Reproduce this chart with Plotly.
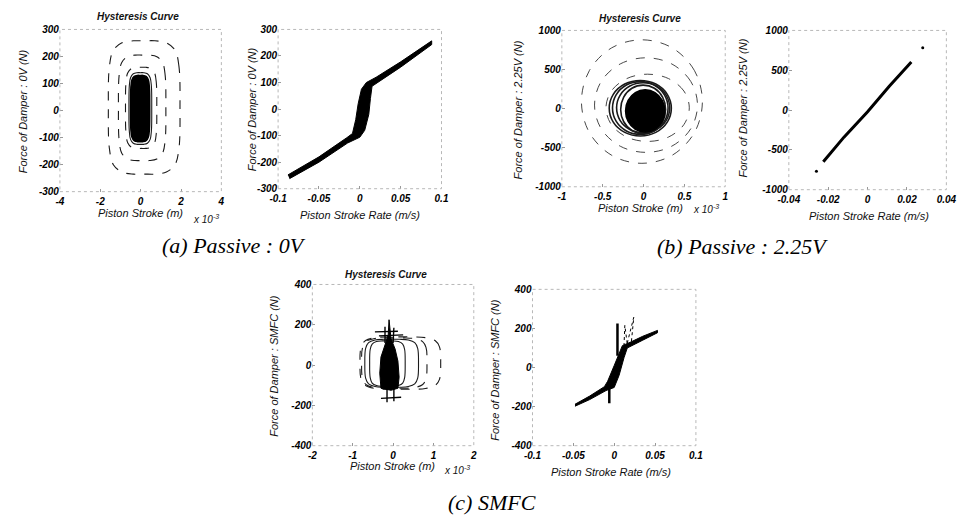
import plotly.graph_objects as go

W, H = 973, 524

# ------------------------------------------------------------------ data
# hand-traced unit loop outlines (used for the hysteresis loops)
RECT_U = [1.0, 0.97, 0.86, 0.62, 0.3, 0.0, -0.3, -0.62, -0.86, -0.97, -1.0,
          -0.97, -0.86, -0.62, -0.3, 0.0, 0.3, 0.62, 0.86, 0.97, 1.0]
RECT_V = [0.0, 0.62, 0.86, 0.97, 1.0, 1.0, 1.0, 0.97, 0.86, 0.62, 0.0,
          -0.62, -0.86, -0.97, -1.0, -1.0, -1.0, -0.97, -0.86, -0.62, 0.0]
ELL_U = [1.0, 0.87, 0.5, 0.0, -0.5, -0.87, -1.0, -0.87, -0.5, 0.0, 0.5, 0.87, 1.0]
ELL_V = [0.0, 0.5, 0.87, 1.0, 0.87, 0.5, 0.0, -0.5, -0.87, -1.0, -0.87, -0.5, 0.0]

# (a) Passive 0V : stroke (x1e-3 m) vs force (N)
A1_LOOP_X = [(-1.6, 1.95), (-1.1, 1.25), (-0.75, 0.8), (-0.58, 0.55)]
A1_LOOP_Y = [(-235, 258), (-185, 205), (-140, 160), (-125, 140)]
A1_CORE_X = (-0.5, 0.45)
A1_CORE_Y = (-115, 130)

# (a) Passive 0V : stroke rate (m/s) vs force (N) - band outline
A2_RATE = [-0.088, -0.05, -0.016, -0.009, -0.005, -0.002, 0.002, 0.008, 0.02, 0.05, 0.088,
           0.088, 0.05, 0.02, 0.015, 0.013, 0.011, 0.006, 0.0, -0.015, -0.05, -0.086]
A2_FORCE = [-248, -180, -108, -92, -40, 20, 75, 100, 120, 178, 257,
            243, 158, 96, 86, 40, -20, -80, -106, -128, -200, -262]

# (b) Passive 2.25V : stroke vs force
B1_LOOP_X = [(-0.76, 0.72), (-0.6, 0.66), (-0.46, 0.56)]
B1_LOOP_Y = [(-700, 880), (-560, 650), (-420, 440)]
B1_HAIR_X = [(-0.42, 0.34), (-0.38, 0.3), (-0.33, 0.32), (-0.28, 0.27)]
B1_HAIR_Y = [(-350, 360), (-330, 345), (-310, 330), (-320, 300)]
B1_CORE_X = (-0.22, 0.26)
B1_CORE_Y = (-300, 240)

# (b) Passive 2.25V : stroke rate vs force
B2_RATE = [-0.0225, -0.012, 0.0, 0.011, 0.0222]
B2_FORCE = [-650, -340, -20, 300, 605]
B2_DOT_RATE = [0.028, -0.026]
B2_DOT_FORCE = [784, -767]

# (c) SMFC : stroke vs force
C1_LOOP_X = [(-0.82, 1.18), (-0.78, 0.84), (-0.7, 0.63), (-0.58, 0.3)]
C1_LOOP_Y = [(-120, 140), (-115, 135), (-110, 128), (-105, 120)]
C1_CORE_STROKE = [-0.1, -0.05, 0.05, 0.12, 0.15, 0.12, -0.05, -0.3, -0.33, -0.3, -0.2, -0.12, -0.1]
C1_CORE_FORCE = [225, 130, 80, 20, -60, -115, -125, -115, -40, 40, 100, 150, 225]
C1_SPIKE_STROKE = [-0.2, -0.2, None, 0.0, 0.02, None, -0.45, 0.12, None, -0.35, 0.25, None,
                   -0.3, 0.2, None, -0.15, -0.15, None, 0.02, 0.02]
C1_SPIKE_FORCE = [110, 190, None, 110, 185, None, 165, 168, None, 145, 150, None,
                  -165, -160, None, -110, -185, None, -110, -180]

# (c) SMFC : stroke rate vs force - band outline
C2_RATE = [-0.048, -0.03, -0.012, -0.008, 0.0, 0.006, 0.01, 0.02, 0.035, 0.053,
           0.053, 0.035, 0.02, 0.016, 0.012, 0.006, 0.0, -0.01, -0.03, -0.048]
C2_FORCE = [-188, -146, -98, -70, 10, 70, 112, 130, 160, 190,
            178, 140, 108, 100, 50, -40, -102, -118, -164, -198]
C2_SPIKE_RATE = [0.004, 0.004, None, -0.006, -0.006]
C2_SPIKE_FORCE = [60, 225, None, -100, -183]
C2_DASH_RATE = [0.012, 0.013, 0.016, None, 0.016, 0.024, 0.021]
C2_DASH_FORCE = [110, 216, 120, None, 125, 258, 130]

# tick labels
A1_XT = [-4, -2, 0, 2, 4]
A_YT = [-300, -200, -100, 0, 100, 200, 300]
A2_XT = [-0.1, -0.05, 0, 0.05, 0.1]
A2_XT_TXT = ["-0.1", "-0.05", "0", "0.05", "0.1"]
B1_XT = [-1, -0.5, 0, 0.5, 1]
B1_XT_TXT = ["-1", "-0.5", "0", "0.5", "1"]
B_YT = [-1000, -500, 0, 500, 1000]
B2_XT = [-0.04, -0.02, 0, 0.02, 0.04]
B2_XT_TXT = ["-0.04", "-0.02", "0", "0.02", "0.04"]
C1_XT = [-2, -1, 0, 1, 2]
C_YT = [-400, -200, 0, 200, 400]
C2_XT = [-0.1, -0.05, 0, 0.05, 0.1]

# ------------------------------------------------------------------ helpers
def scaled(tu, tv, xr, yr):
    xs = [xr[0] + (u + 1) / 2 * (xr[1] - xr[0]) for u in tu]
    ys = [yr[0] + (v + 1) / 2 * (yr[1] - yr[0]) for v in tv]
    return xs, ys


def neg(vals):
    return [str(v) for v in vals]


fig = go.Figure()
INK = "#1a1a1a"


def loop(ax, tu, tv, xr, yr, dash="solid", width=1.0, color=INK, fill=False):
    xs, ys = scaled(tu, tv, xr, yr)
    fig.add_trace(go.Scatter(
        x=xs, y=ys, mode="lines", xaxis="x" + ax, yaxis="y" + ax,
        line=dict(color=color, width=width, dash=dash, shape="spline", smoothing=1.0),
        fill="toself" if fill else None, fillcolor="black" if fill else None,
        hoverinfo="skip", showlegend=False))


def poly(ax, xs, ys, fill=True, width=1.0, dash="solid", mode="lines", color="black"):
    fig.add_trace(go.Scatter(
        x=xs, y=ys, mode=mode, xaxis="x" + ax, yaxis="y" + ax,
        line=dict(color=color, width=width, dash=dash),
        marker=dict(color=color, size=3),
        fill="toself" if fill else None, fillcolor="black" if fill else None,
        hoverinfo="skip", showlegend=False))


# (a) left
for i, (xr, yr) in enumerate(zip(A1_LOOP_X, A1_LOOP_Y)):
    loop("", RECT_U, RECT_V, xr, yr, dash="dash" if i < 3 else "solid", width=1.1)
loop("", RECT_U, RECT_V, A1_CORE_X, A1_CORE_Y, width=1.5, color="black", fill=True)
# (a) right
poly("2", A2_RATE, A2_FORCE)
# (b) left
for xr, yr in zip(B1_LOOP_X, B1_LOOP_Y):
    loop("3", ELL_U, ELL_V, xr, yr, dash="dash", width=0.9, color="#333333")
for xr, yr in zip(B1_HAIR_X, B1_HAIR_Y):
    loop("3", ELL_U, ELL_V, xr, yr, width=1.6)
loop("3", ELL_U, ELL_V, B1_CORE_X, B1_CORE_Y, width=1.5, color="black", fill=True)
# (b) right
poly("4", B2_RATE, B2_FORCE, fill=False, width=3)
poly("4", B2_DOT_RATE, B2_DOT_FORCE, fill=False, mode="markers")
# (c) left
for i, (xr, yr) in enumerate(zip(C1_LOOP_X, C1_LOOP_Y)):
    loop("5", RECT_U, RECT_V, xr, yr, dash="dash" if i < 2 else "solid", width=1.1)
poly("5", C1_CORE_STROKE, C1_CORE_FORCE)
poly("5", C1_SPIKE_STROKE, C1_SPIKE_FORCE, fill=False, width=1.4)
# (c) right
poly("6", C2_RATE, C2_FORCE)
poly("6", C2_SPIKE_RATE, C2_SPIKE_FORCE, fill=False, width=2.5)
poly("6", C2_DASH_RATE, C2_DASH_FORCE, fill=False, width=1, dash="dot")

# ------------------------------------------------------------------ layout
TICKFONT = dict(family="Liberation Sans, Arial", size=10, color="black",
                weight="bold", style="italic")


def dom_x(x0, x1):
    return [x0 / W, x1 / W]


def dom_y(y0, y1):
    return [1 - y1 / H, 1 - y0 / H]


def axis(domain, rng, tv, tt, anchor, standoff=0):
    return dict(domain=domain, range=rng, tickvals=tv, ticktext=tt, anchor=anchor,
                showgrid=False, zeroline=False, showline=False, ticks="inside",
                ticklen=3, tickcolor="#999999", tickfont=TICKFONT, fixedrange=True,
                ticklabelstandoff=standoff)


boxes = {
    "": (50, 215, 24, 190),
    "2": (273, 440, 24, 187),
    "3": (563, 730, 25, 185),
    "4": (795, 956, 25, 188),
    "5": (308, 473, 285, 450),
    "6": (533, 700, 290, 450),
}
spec = {
    "": ([-4, 4], A1_XT, neg(A1_XT), [-300, 300], A_YT, neg(A_YT)),
    "2": ([-0.1, 0.1], A2_XT, A2_XT_TXT, [-300, 300], A_YT, neg(A_YT)),
    "3": ([-1, 1], B1_XT, B1_XT_TXT, [-1000, 1000], B_YT, neg(B_YT)),
    "4": ([-0.04, 0.04], B2_XT, B2_XT_TXT, [-1000, 1000], B_YT, neg(B_YT)),
    "5": ([-2, 2], C1_XT, neg(C1_XT), [-400, 400], C_YT, neg(C_YT)),
    "6": ([-0.1, 0.1], C2_XT, A2_XT_TXT, [-400, 400], C_YT, neg(C_YT)),
}
lay = {}
shapes = []
for k, (x0, x1, y0, y1) in boxes.items():
    xr, xtv, xtt, yr, ytv, ytt = spec[k]
    lay["xaxis" + k] = axis(dom_x(x0, x1), xr, xtv, xtt, "y" + k, standoff=2)
    lay["yaxis" + k] = axis(dom_y(y0, y1), yr, ytv, ytt, "x" + k)
    shapes.append(dict(type="rect", xref=("x" + k) + " domain", yref=("y" + k) + " domain",
                       x0=0, x1=1, y0=0, y1=1,
                       line=dict(color="#b8b8b8", width=1, dash="dot")))

ann = []


def text(px, py, s, size=11, angle=0, family="Liberation Sans, Arial", color="#111111"):
    ann.append(dict(x=px / W, y=1 - py / H, xref="paper", yref="paper", text=s,
                    showarrow=False, textangle=angle, xanchor="center", yanchor="middle",
                    font=dict(family=family, size=size, color=color)))


# titles
for px, py in [(130, 11), (643, 13), (383, 275)]:
    text(px, py, "<b><i>Hysteresis Curve</i></b>", size=10)
# x labels
text(132, 212, "<i>Piston Stroke (m)</i>")
text(357, 214, "<i>Piston Stroke Rate (m/s)</i>")
text(643, 207, "<i>Piston Stroke (m)</i>")
text(877, 215, "<i>Piston Stroke Rate (m/s)</i>")
text(390, 471, "<i>Piston Stroke (m)</i>")
text(613, 477, "<i>Piston Stroke Rate (m/s)</i>")
# multipliers
for px, py in [(199, 218), (710, 208), (456, 475)]:
    text(px, py, "<i>x 10<sup>-3</sup></i>", size=10)
# y labels
text(12, 108, "<i>Force of Damper : 0V (N)</i>", angle=-90)
text(246, 106, "<i>Force of Damper : 0V (N)</i>", angle=-90)
text(518, 106, "<i>Force of Damper : 2.25V (N)</i>", angle=-90)
text(748, 104, "<i>Force of Damper : 2.25V (N)</i>", angle=-90)
text(268, 368, "<i>Force of Damper : SMFC (N)</i>", angle=-90)
text(495, 372, "<i>Force of Damper : SMFC (N)</i>", angle=-90)
# captions
SERIF = "Liberation Serif, Times New Roman, serif"
text(228, 245, "<i>(a) Passive : 0V</i>", size=22, family=SERIF, color="black")
text(748, 246, "<i>(b) Passive : 2.25V</i>", size=22, family=SERIF, color="black")
text(492, 508, "<i>(c) SMFC</i>", size=22, family=SERIF, color="black")

fig.update_layout(
    width=W, height=H, autosize=False,
    margin=dict(l=0, r=0, t=0, b=0),
    paper_bgcolor="white", plot_bgcolor="white",
    showlegend=False, shapes=shapes, annotations=ann,
    **lay,
)
fig.write_html("out.html", config={"displayModeBar": False},
               post_script="document.body.style.margin='0';document.body.style.overflow='hidden';")
